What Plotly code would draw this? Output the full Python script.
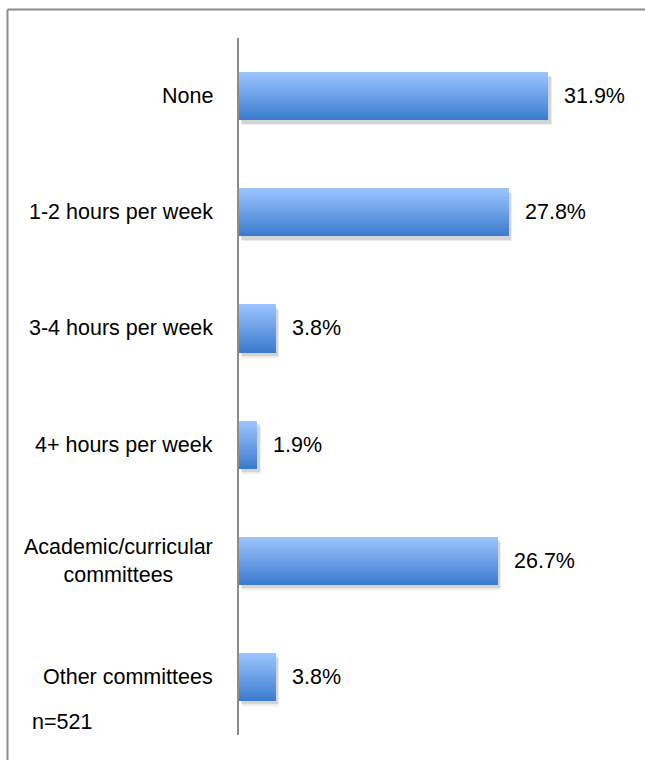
import plotly.graph_objects as go

# Survey responses: time spent on committee / service work
categories = [
    "None",
    "1-2 hours per week",
    "3-4 hours per week",
    "4+ hours per week",
    "Academic/curricular<br>committees",
    "Other committees",
]
values = [31.9, 27.8, 3.8, 1.9, 26.7, 3.8]
sample_note = "n=521"

FONT = "Liberation Sans, Arial, sans-serif"
FSIZE = 21.5
W, H = 645, 760
M_L, M_R, M_T, M_B = 239, 18, 38, 25

BAR_W = 0.413          # bar thickness in category units
N_SLICES = 24          # vertical gradient resolution
TOP_RGB = (155, 196, 255)
BOT_RGB = (60, 124, 206)

ypos = list(range(len(categories)))

fig = go.Figure()

# soft drop shadow under each bar
for dy, base, alpha in [(0.045, 0.35, 0.07), (0.03, 0.22, 0.10)]:
    fig.add_trace(go.Bar(
        y=ypos, x=values, base=base, orientation="h",
        width=BAR_W, offset=-BAR_W / 2 + dy,
        marker=dict(color=f"rgba(0,0,0,{alpha})", line=dict(width=0)),
        hoverinfo="skip", showlegend=False,
    ))

# bars built from thin horizontal slices to give a top-to-bottom gradient
sw = BAR_W / N_SLICES
for k in range(N_SLICES):
    t = k / (N_SLICES - 1)
    r, g, b = (round(TOP_RGB[i] + (BOT_RGB[i] - TOP_RGB[i]) * t) for i in range(3))
    fig.add_trace(go.Bar(
        y=ypos, x=values, orientation="h",
        width=sw * 1.05, offset=-BAR_W / 2 + k * sw,
        marker=dict(color=f"rgb({r},{g},{b})", line=dict(width=0)),
        hoverinfo="skip", showlegend=False,
    ))

annotations = []
for y, cat, v in zip(ypos, categories, values):
    annotations.append(dict(
        x=0, xref="paper", y=y, yref="y", xshift=-24,
        text=cat, showarrow=False, xanchor="right", yanchor="middle",
        align="center", font=dict(family=FONT, size=FSIZE, color="#000"),
    ))
    annotations.append(dict(
        x=v, xref="x", y=y, yref="y", xshift=14,
        text=f"{v:.1f}%", showarrow=False, xanchor="left", yanchor="middle",
        font=dict(family=FONT, size=FSIZE, color="#000"),
    ))

plot_w = W - M_L - M_R
plot_h = H - M_T - M_B
annotations.append(dict(
    x=(30 - M_L) / plot_w, xref="paper", y=(H - M_B - 722) / plot_h, yref="paper",
    text=sample_note, showarrow=False, xanchor="left", yanchor="middle",
    font=dict(family=FONT, size=FSIZE, color="#000"),
))

# outer frame (top and left edges visible)
fx = (7.5 - M_L) / plot_w
fy = (H - M_B - 9.5) / plot_h
shapes = [
    dict(type="line", xref="paper", yref="paper", x0=fx, x1=(W + 5 - M_L) / plot_w,
         y0=fy, y1=fy, line=dict(color="#8c8c8c", width=2)),
    dict(type="line", xref="paper", yref="paper", x0=fx, x1=fx,
         y0=fy, y1=-(M_B + 5) / plot_h, line=dict(color="#8c8c8c", width=2)),
]

fig.update_layout(
    width=W, height=H,
    margin=dict(l=M_L, r=M_R, t=M_T, b=M_B),
    paper_bgcolor="white", plot_bgcolor="white",
    barmode="overlay", bargap=0,
    xaxis=dict(range=[0, 40], visible=False, fixedrange=True),
    yaxis=dict(range=[len(categories) - 0.5, -0.5], showticklabels=False,
               showgrid=False, zeroline=False, ticks="",
               showline=True, linecolor="#8c8c8c", linewidth=2),
    annotations=annotations, shapes=shapes,
    showlegend=False,
)

fig.write_html("out.html")
